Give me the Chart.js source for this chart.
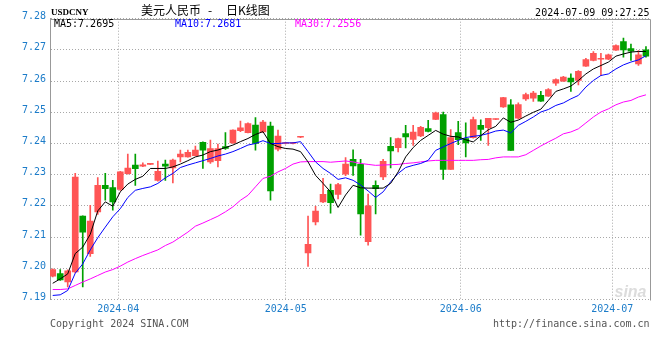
<!DOCTYPE html>
<html>
<head>
<meta charset="utf-8">
<script src="https://cdn.jsdelivr.net/npm/chart.js@4.4.1/dist/chart.umd.min.js"></script>
<style>
  html, body { margin: 0; padding: 0; background: #fff; }
</style>
</head>
<body>
<canvas id="kChart" width="660" height="360"></canvas>
<script>
// daily K of USDCNY, one entry per trading day (oldest first)
const openP = [7.1975, 7.1983, 7.1956, 7.1988, 7.2167, 7.2047, 7.2181, 7.2266, 7.2259, 7.2253,
  7.2303, 7.2331, 7.2327, 7.2333, 7.2282, 7.2334, 7.2322, 7.2357, 7.2357, 7.2361,
  7.2404, 7.2341, 7.2345, 7.2390, 7.2402, 7.2441, 7.2435, 7.2459, 7.2437, 7.2456,
  7.2382, 7.2400, 7.2400, 7.2420, 7.2049, 7.2149, 7.2213, 7.2250, 7.2237, 7.2302,
  7.2349, 7.2333, 7.2085, 7.2266, 7.2293, 7.2391, 7.2387, 7.2432, 7.2413, 7.2424,
  7.2448, 7.2477, 7.2493, 7.2317, 7.2435, 7.2416, 7.2419, 7.2458, 7.2451, 7.2477,
  7.2517, 7.2524, 7.2481, 7.2543, 7.2545, 7.2554, 7.2552, 7.2593, 7.2600, 7.2610,
  7.2602, 7.2648, 7.2666, 7.2670, 7.2670, 7.2699, 7.2727, 7.2704, 7.2655, 7.2700];
const highP = [7.1998, 7.1996, 7.1995, 7.2304, 7.2168, 7.2202, 7.2291, 7.2304, 7.2282, 7.2311,
  7.2366, 7.2366, 7.2338, 7.2335, 7.2344, 7.2347, 7.2350, 7.2379, 7.2379, 7.2392,
  7.2405, 7.2411, 7.2398, 7.2435, 7.2444, 7.2472, 7.2466, 7.2483, 7.2474, 7.2469,
  7.2443, 7.2403, 7.2403, 7.2422, 7.2167, 7.2199, 7.2288, 7.2270, 7.2272, 7.2355,
  7.2380, 7.2349, 7.2238, 7.2280, 7.2349, 7.2419, 7.2417, 7.2458, 7.2458, 7.2455,
  7.2474, 7.2501, 7.2501, 7.2445, 7.2471, 7.2466, 7.2485, 7.2476, 7.2481, 7.2479,
  7.2548, 7.2541, 7.2530, 7.2562, 7.2567, 7.2567, 7.2576, 7.2607, 7.2615, 7.2623,
  7.2634, 7.2673, 7.2695, 7.2689, 7.2687, 7.2716, 7.2738, 7.2719, 7.2698, 7.2711];
const lowP = [7.1972, 7.1961, 7.1940, 7.1985, 7.1940, 7.2038, 7.2173, 7.2218, 7.2186, 7.2250,
  7.2302, 7.2266, 7.2326, 7.2332, 7.2279, 7.2282, 7.2274, 7.2341, 7.2356, 7.2360,
  7.2320, 7.2336, 7.2325, 7.2381, 7.2400, 7.2438, 7.2434, 7.2379, 7.2435, 7.2218,
  7.2376, 7.2399, 7.2399, 7.2419, 7.2006, 7.2139, 7.2210, 7.2177, 7.2222, 7.2297,
  7.2298, 7.2106, 7.2074, 7.2174, 7.2284, 7.2322, 7.2373, 7.2386, 7.2394, 7.2422,
  7.2437, 7.2476, 7.2285, 7.2317, 7.2396, 7.2357, 7.2417, 7.2410, 7.2394, 7.2476,
  7.2516, 7.2378, 7.2479, 7.2538, 7.2535, 7.2535, 7.2551, 7.2586, 7.2599, 7.2567,
  7.2588, 7.2647, 7.2665, 7.2618, 7.2669, 7.2698, 7.2677, 7.2666, 7.2650, 7.2677];
const closeP = [7.1996, 7.1963, 7.1992, 7.2292, 7.2116, 7.2151, 7.2266, 7.2255, 7.2213, 7.2309,
  7.2321, 7.2319, 7.2332, 7.2334, 7.2311, 7.2327, 7.2347, 7.2366, 7.2372, 7.2379,
  7.2379, 7.2384, 7.2384, 7.2384, 7.2443, 7.2450, 7.2464, 7.2400, 7.2469, 7.2248,
  7.2424, 7.2402, 7.2402, 7.2421, 7.2077, 7.2183, 7.2237, 7.2210, 7.2268, 7.2334,
  7.2328, 7.2174, 7.2200, 7.2255, 7.2343, 7.2376, 7.2416, 7.2421, 7.2437, 7.2452,
  7.2439, 7.2498, 7.2317, 7.2419, 7.2412, 7.2402, 7.2477, 7.2445, 7.2481, 7.2478,
  7.2547, 7.2378, 7.2525, 7.2557, 7.2562, 7.2536, 7.2573, 7.2605, 7.2613, 7.2597,
  7.2631, 7.2669, 7.2689, 7.2672, 7.2684, 7.2714, 7.2700, 7.2696, 7.2684, 7.2680];

// moving averages as drawn on the chart
const ma5 = [7.1952, 7.1966, 7.1982, 7.2047, 7.2068, 7.2109, 7.2184, 7.2213, 7.2199, 7.2245,
  7.2270, 7.2285, 7.2295, 7.2320, 7.2320, 7.2320, 7.2325, 7.2334, 7.2345, 7.2357,
  7.2363, 7.2374, 7.2379, 7.2387, 7.2395, 7.2406, 7.2416, 7.2429, 7.2438, 7.2400,
  7.2390, 7.2384, 7.2382, 7.2374, 7.2341, 7.2298, 7.2272, 7.2245, 7.2195, 7.2235,
  7.2266, 7.2258, 7.2257, 7.2257, 7.2257, 7.2272, 7.2309, 7.2357, 7.2387, 7.2410,
  7.2426, 7.2442, 7.2430, 7.2423, 7.2421, 7.2412, 7.2405, 7.2425, 7.2444, 7.2455,
  7.2482, 7.2468, 7.2475, 7.2488, 7.2500, 7.2510, 7.2538, 7.2567, 7.2575, 7.2584,
  7.2602, 7.2623, 7.2639, 7.2650, 7.2661, 7.2680, 7.2687, 7.2693, 7.2695, 7.2695];
const ma10 = [7.1913, 7.1915, 7.1929, 7.1984, 7.2014, 7.2059, 7.2098, 7.2132, 7.2165, 7.2191,
  7.2227, 7.2250, 7.2256, 7.2261, 7.2272, 7.2290, 7.2304, 7.2323, 7.2331, 7.2338,
  7.2345, 7.2352, 7.2360, 7.2366, 7.2374, 7.2384, 7.2395, 7.2400, 7.2409, 7.2400,
  7.2400, 7.2402, 7.2402, 7.2406, 7.2374, 7.2341, 7.2320, 7.2304, 7.2285, 7.2290,
  7.2282, 7.2267, 7.2248, 7.2227, 7.2245, 7.2277, 7.2304, 7.2323, 7.2330, 7.2336,
  7.2346, 7.2378, 7.2389, 7.2400, 7.2410, 7.2419, 7.2423, 7.2426, 7.2432, 7.2440,
  7.2443, 7.2434, 7.2458, 7.2471, 7.2485, 7.2501, 7.2509, 7.2522, 7.2530, 7.2543,
  7.2554, 7.2581, 7.2602, 7.2618, 7.2623, 7.2639, 7.2652, 7.2661, 7.2668, 7.2681];
const ma30 = [7.1932, 7.1932, 7.1934, 7.1945, 7.1956, 7.1966, 7.1977, 7.1988, 7.1996, 7.2007,
  7.2020, 7.2031, 7.2041, 7.2050, 7.2059, 7.2073, 7.2084, 7.2100, 7.2116, 7.2135,
  7.2145, 7.2156, 7.2167, 7.2181, 7.2197, 7.2218, 7.2234, 7.2261, 7.2288, 7.2295,
  7.2309, 7.2320, 7.2334, 7.2341, 7.2342, 7.2342, 7.2342, 7.2340, 7.2342, 7.2344,
  7.2341, 7.2336, 7.2333, 7.2330, 7.2331, 7.2332, 7.2333, 7.2336, 7.2338, 7.2341,
  7.2344, 7.2346, 7.2346, 7.2346, 7.2346, 7.2346, 7.2346, 7.2348, 7.2349, 7.2354,
  7.2357, 7.2357, 7.2357, 7.2364, 7.2378, 7.2392, 7.2405, 7.2417, 7.2431, 7.2437,
  7.2447, 7.2466, 7.2485, 7.2501, 7.2511, 7.2524, 7.2533, 7.2538, 7.2549, 7.2556];

// month markers on the x axis, in candle-index units
const monthPos = [8.73, 31.03, 54.33, 74.51];
const monthLabels = ['2024-04', '2024-05', '2024-06', '2024-07'];

const UP = '#ff5555';
const DOWN = '#00a000';
const AXIS_BLUE = '#1c7cc9';
const GRID = '#a8a8a8';
const FRAME = '#999999';
const MONO = '"DejaVu Sans Mono", monospace';

const candleColors = closeP.map((c, i) => c >= openP[i] ? UP : DOWN);
const wickData = highP.map((h, i) => ({ x: i, y: [lowP[i], h] }));
const bodyData = openP.map((o, i) => ({ x: i, y: [o, closeP[i]] }));
const asPoints = arr => arr.map((v, i) => ({ x: i, y: v }));
const last = arr => arr[arr.length - 1].toFixed(4);

// frame, headings, MA readout and footer
const sinaDecor = {
  id: 'sinaDecor',
  beforeDatasetsDraw(chart) {
    const { ctx, chartArea: a } = chart;
    ctx.save();
    ctx.font = 'italic bold 16px "Liberation Sans", sans-serif';
    ctx.fillStyle = '#dcdcdc';
    ctx.textAlign = 'right';
    ctx.textBaseline = 'alphabetic';
    ctx.fillText('sina', a.right - 3, a.bottom - 3);
    ctx.restore();
  },
  afterDraw(chart) {
    const { ctx, chartArea: a } = chart;
    ctx.save();
    ctx.strokeStyle = FRAME;
    ctx.lineWidth = 1;
    ctx.beginPath();
    ctx.moveTo(Math.round(a.left) + 0.5, Math.round(a.top) + 0.5);
    ctx.lineTo(Math.round(a.right) + 0.5, Math.round(a.top) + 0.5);
    ctx.lineTo(Math.round(a.right) + 0.5, Math.round(a.bottom) + 0.5);
    ctx.stroke();

    ctx.textBaseline = 'alphabetic';
    ctx.textAlign = 'left';
    ctx.font = 'bold 9px "Liberation Serif", serif';
    ctx.fillStyle = '#000';
    ctx.fillText('USDCNY', a.left + 1, 15);

    ctx.font = '12px "Noto Sans CJK SC", sans-serif';
    ctx.fillText('美元人民币', 141, 15);
    ctx.fillText('-', 208, 15);
    ctx.fillText('日K线图', 226, 15);

    ctx.font = '10px ' + MONO;
    ctx.textAlign = 'right';
    ctx.fillText('2024-07-09 09:27:25', a.right, 15.5);

    ctx.textAlign = 'left';
    ctx.fillStyle = '#000000';
    ctx.fillText('MA5:' + last(ma5), a.left + 4, a.top + 8.5);
    ctx.fillStyle = '#0000ff';
    ctx.fillText('MA10:' + last(ma10), a.left + 125, a.top + 8.5);
    ctx.fillStyle = '#ff00ff';
    ctx.fillText('MA30:' + last(ma30), a.left + 245, a.top + 8.5);

    ctx.fillStyle = '#555555';
    ctx.fillText('Copyright 2024 SINA.COM', a.left, 327);
    ctx.textAlign = 'right';
    ctx.fillText('http://finance.sina.com.cn', a.right, 327);
    ctx.restore();
  }
};

new Chart(document.getElementById('kChart'), {
  type: 'bar',
  data: {
    datasets: [
      { type: 'line', label: 'MA5', data: asPoints(ma5), borderColor: '#000000', borderWidth: 1,
        pointRadius: 0, tension: 0, fill: false, order: 0 },
      { type: 'line', label: 'MA10', data: asPoints(ma10), borderColor: '#0000ff', borderWidth: 1,
        pointRadius: 0, tension: 0, fill: false, order: 0 },
      { type: 'line', label: 'MA30', data: asPoints(ma30), borderColor: '#ff00ff', borderWidth: 1,
        pointRadius: 0, tension: 0, fill: false, order: 0 },
      { label: 'body', data: bodyData, backgroundColor: candleColors, barThickness: 6,
        minBarLength: 1, grouped: false, borderWidth: 0, order: 1 },
      { label: 'wick', data: wickData, backgroundColor: candleColors, barThickness: 1,
        grouped: false, borderWidth: 0, order: 2 }
    ]
  },
  options: {
    responsive: false,
    animation: false,
    events: [],
    layout: { padding: { top: 18.7, right: 10.5, bottom: 40, left: 0 } },
    plugins: { legend: { display: false }, tooltip: { enabled: false } },
    scales: {
      x: {
        type: 'linear',
        min: -0.36,
        max: 79.47,
        offset: false,
        afterBuildTicks: s => { s.ticks = monthPos.map(v => ({ value: v })); },
        afterFit: s => { s.height = 20.5; },
        ticks: {
          autoSkip: false, maxRotation: 0, padding: 4, color: AXIS_BLUE,
          font: { family: MONO, size: 10 },
          callback: (v, i) => monthLabels[i]
        },
        grid: { color: GRID, drawTicks: false, offset: false },
        border: { display: false, dash: [1, 2] }
      },
      y: {
        min: 7.19,
        max: 7.28,
        afterFit: s => { s.width = 50; },
        ticks: {
          stepSize: 0.01, padding: 4, color: AXIS_BLUE, labelOffset: -2,
          font: { family: MONO, size: 10 },
          callback: v => v.toFixed(2)
        },
        grid: { color: GRID, drawTicks: false },
        border: { display: true, color: FRAME, dash: [1, 2] }
      }
    }
  },
  plugins: [sinaDecor]
});
</script>
</body>
</html>
